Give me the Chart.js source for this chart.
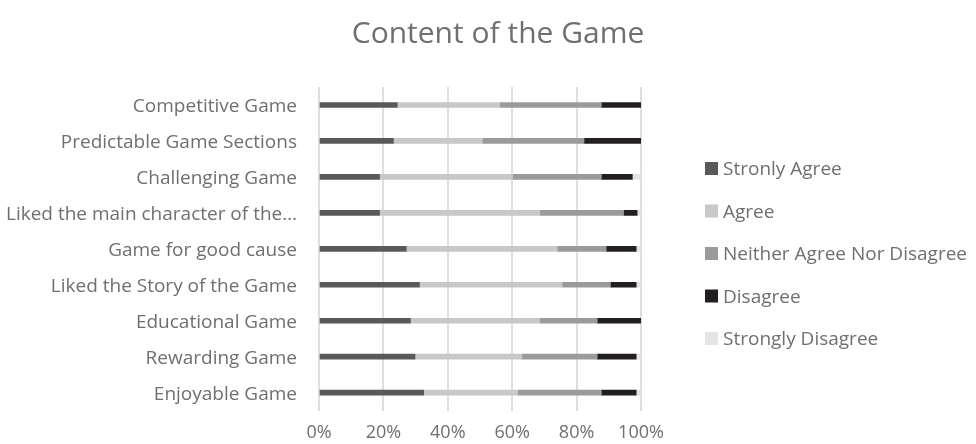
<!DOCTYPE html>
<html>
<head>
<meta charset="utf-8">
<script src="https://cdn.jsdelivr.net/npm/chart.js@4"></script>
<style>
  html, body { margin: 0; padding: 0; background: #fff; }
  #wrap { width: 976px; height: 444px; position: relative; }
</style>
</head>
<body>
<div id="wrap"><canvas id="myChart" width="976" height="444"></canvas></div>
<script>
// =====> Data <=====
const categories = [
  'Competitive Game',
  'Predictable Game Sections',
  'Challenging Game',
  'Liked the main character of the\u2026',
  'Game for good cause',
  'Liked the Story of the Game',
  'Educational Game',
  'Rewarding Game',
  'Enjoyable Game'
];

const seriesNames = ['Stronly Agree', 'Agree', 'Neither Agree Nor Disagree', 'Disagree', 'Strongly Disagree'];

// percent of answers per statement
const stronglyAgree    = [24.3, 23.1, 18.8, 18.8, 27.1, 31.2, 28.4, 29.8, 32.5];
const agree            = [31.8, 27.6, 41.3, 49.8, 46.9, 44.3, 40.2, 33.2, 29.2];
const neither          = [31.6, 31.6, 27.6, 26.0, 15.2, 15.0, 17.8, 23.4, 26.0];
const disagree         = [12.3, 17.7,  9.6,  4.2,  9.3,  8.0, 13.6, 12.1, 10.8];
const stronglyDisagree = [ 0.0,  0.0,  2.7,  1.2,  1.5,  1.5,  0.0,  1.5,  1.5];

const xTicks = [0, 20, 40, 60, 80, 100];

const colors = ['#595959', '#c8c8c8', '#9b9b9b', '#231f20', '#e4e4e4'];
const textColor = '#6f6f6f';
const fontFamily = '"Open Sans", sans-serif';

const seriesValues = [stronglyAgree, agree, neither, disagree, stronglyDisagree];

// =====> Title + legend drawn next to the plot <=====
const sideText = {
  id: 'sideText',
  afterDraw(chart) {
    const c = chart.ctx;
    c.save();
    c.fillStyle = textColor;
    c.textBaseline = 'middle';

    c.font = '30px ' + fontFamily;
    c.textAlign = 'center';
    c.fillText('Content of the Game', 498, 34);

    c.font = '19px ' + fontFamily;
    c.textAlign = 'left';
    chart.data.datasets.forEach((ds, i) => {
      const y = 169 + i * 42.5;
      c.fillStyle = ds.backgroundColor;
      c.fillRect(705, y - 7, 13, 13);
      c.fillStyle = textColor;
      c.fillText(ds.label, 723, y + 1);
    });
    c.restore();
  }
};

const ctx = document.getElementById('myChart').getContext('2d');

const chart = new Chart(ctx, {
  type: 'bar',
  data: {
    labels: categories,
    datasets: seriesNames.map((name, i) => ({
      label: name,
      data: seriesValues[i],
      backgroundColor: colors[i],
      borderWidth: 0,
      barThickness: 5
    }))
  },
  options: {
    indexAxis: 'y',
    responsive: false,
    animation: false,
    layout: { padding: { top: 87, right: 335, left: 0, bottom: 0 } },
    plugins: {
      legend: { display: false },
      title: { display: false },
      tooltip: { enabled: false }
    },
    scales: {
      x: {
        stacked: true,
        min: 0,
        max: 100,
        afterBuildTicks: (scale) => { scale.ticks = xTicks.map(v => ({ value: v })); },
        afterFit: (scale) => { scale.height = 30; },
        ticks: {
          callback: (v) => v + '%',
          color: textColor,
          font: { family: fontFamily, size: 18 },
          padding: 11
        },
        grid: { color: '#dedede', lineWidth: 2, drawTicks: false },
        border: { display: false }
      },
      y: {
        stacked: true,
        afterFit: (scale) => { scale.width = 319; },
        ticks: {
          color: textColor,
          font: { family: fontFamily, size: 19 },
          padding: 22,
          labelOffset: 2
        },
        grid: { display: false, drawTicks: false },
        border: { display: false }
      }
    }
  },
  plugins: [sideText]
});
</script>
</body>
</html>
